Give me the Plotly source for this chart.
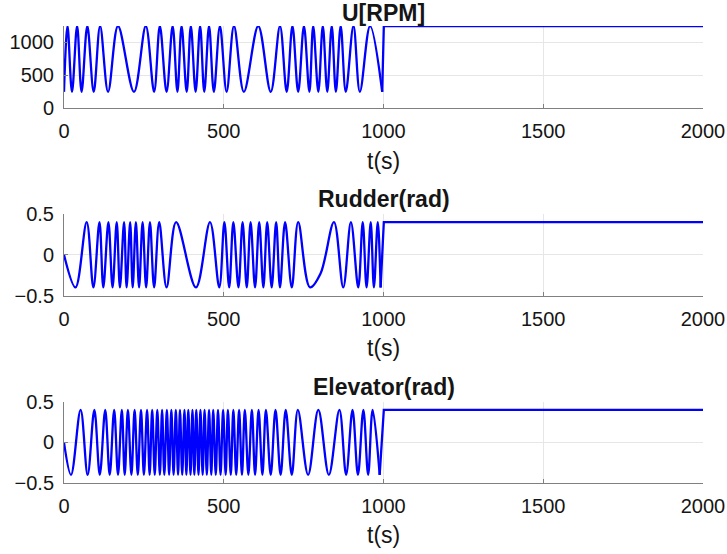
import plotly.graph_objects as go

# ---------------- data ----------------
# U[RPM]: extremum times (s) and values of the swept part, then the hold part
u_osc_t = [0, 11, 25, 41, 55, 73, 93, 113, 138, 169, 219, 256, 282, 300, 321,
           340, 355, 368, 384, 397, 412, 426, 439, 454, 469, 488, 509, 532,
           563, 608, 647, 676, 697, 715, 733, 751, 768, 780, 796, 810, 824,
           838, 851, 866, 882, 906, 926, 958, 996]
u_osc_v = [250, 1250, 250, 1250, 250, 1250, 250, 1250, 250, 1250, 250, 1250,
           250, 1250, 250, 1250, 250, 1250, 250, 1250, 250, 1250, 250, 1250,
           250, 1250, 250, 1250, 250, 1250, 250, 1250, 250, 1250, 250, 1250,
           250, 1250, 250, 1250, 250, 1250, 250, 1250, 250, 1250, 250, 1250,
           250]
u_hold_t = [996, 1001, 2000]
u_hold_v = [250, 1250, 1250]

# Rudder (rad)
rud_osc_t = [0, 36, 71, 92, 111, 123, 139, 152, 165, 175, 188, 196, 207, 215,
             225, 235, 246, 257, 269, 282, 298, 321, 351, 413, 457, 486, 502,
             517, 530, 546, 559, 572, 584, 598, 611, 624, 636, 650, 664, 676,
             692, 713, 733, 770, 803, 845, 874, 898, 921, 935, 947, 960, 970,
             982, 991]
rud_osc_v = [0, -0.4, 0.4, -0.4, 0.4, -0.4, 0.4, -0.4, 0.4, -0.4, 0.4, -0.4,
             0.4, -0.4, 0.4, -0.4, 0.4, -0.4, 0.4, -0.4, 0.4, -0.4, 0.4, -0.4,
             0.4, -0.4, 0.4, -0.4, 0.4, -0.4, 0.4, -0.4, 0.4, -0.4, 0.4, -0.4,
             0.4, -0.4, 0.4, -0.4, 0.4, -0.4, 0.4, -0.4, -0.23, 0.4, -0.4, 0.4,
             -0.4, 0.4, -0.4, 0.4, -0.4, 0.4, -0.4]
rud_hold_t = [991, 997, 999, 1001, 2000]
rud_hold_v = [-0.4, 0.12, 0.12, 0.4, 0.4]

# Elevator (rad)
elev_osc_t = [0, 22, 52, 74, 95, 112, 129, 143, 157, 169, 181, 190, 200, 211,
              221, 231, 241, 250, 260, 268, 276, 284, 292, 300, 307, 314, 322,
              329, 336, 343, 350, 357, 363, 370, 377, 383, 389, 396, 402, 408,
              414, 421, 427, 434, 440, 447, 454, 461, 467, 475, 482, 490, 498,
              506, 513, 522, 530, 539, 548, 557, 566, 577, 588, 598, 609, 621,
              632, 647, 662, 678, 694, 713, 732, 764, 796, 829, 862, 883, 903,
              920, 937, 952, 966, 988]
elev_osc_v = [0] + [-0.4, 0.4] * 41 + [-0.4]
elev_hold_t = [988, 1001, 2000]
elev_hold_v = [-0.4, 0.4, 0.4]

x_ticks = [0, 500, 1000, 1500, 2000]
u_ticks = [0, 500, 1000]
rad_ticks = [-0.5, 0, 0.5]
titles = ["U[RPM]", "Rudder(rad)", "Elevator(rad)"]
x_label = "t(s)"

# ---------------- figure ----------------
W, H = 727, 554
ML, MR, MT, MB = 64, 24, 26, 71
PH = H - MT - MB


def py2paper(py):
    return (H - MB - py) / PH


BLUE = "#0000ff"
GRID = "#e6e6e6"
AXC = "#808080"
TXT = "#151515"
FONT = "Liberation Sans, Arial, sans-serif"

fig = go.Figure()
series = [
    (u_osc_t, u_osc_v, u_hold_t, u_hold_v, "x", "y"),
    (rud_osc_t, rud_osc_v, rud_hold_t, rud_hold_v, "x2", "y2"),
    (elev_osc_t, elev_osc_v, elev_hold_t, elev_hold_v, "x3", "y3"),
]
for ot, ov, ht, hv, xa, ya in series:
    fig.add_trace(go.Scatter(x=ot, y=ov, mode="lines", xaxis=xa, yaxis=ya,
                             line=dict(color=BLUE, width=2.3, shape="spline",
                                       smoothing=1.0),
                             showlegend=False, hoverinfo="skip"))
    fig.add_trace(go.Scatter(x=ht, y=hv, mode="lines", xaxis=xa, yaxis=ya,
                             line=dict(color=BLUE, width=2.3),
                             showlegend=False, hoverinfo="skip"))

# panel geometry in pixels: (top, bottom, title centre)
panels = [(26, 108.3, 13.5), (214, 295.6, 199), (401.7, 483, 386.7)]
yranges = [[0, 1250], [-0.5, 0.5], [-0.5, 0.5]]
yticks = [u_ticks, rad_ticks, rad_ticks]

common_x = dict(range=[0, 2000], tickvals=x_ticks, showgrid=True,
                gridcolor=GRID, gridwidth=1, zeroline=False, showline=True,
                linecolor=AXC, linewidth=1, ticks="inside", ticklen=4,
                tickcolor=AXC, tickfont=dict(family=FONT, size=20, color=TXT),
                ticklabelstandoff=5, automargin=False)
common_y = dict(showgrid=True, gridcolor=GRID, gridwidth=1, zeroline=False,
                showline=True, linecolor=AXC, linewidth=1, ticks="inside",
                ticklen=4, tickcolor=AXC,
                tickfont=dict(family=FONT, size=20, color=TXT),
                ticklabelstandoff=5, automargin=False)

layout = dict(width=W, height=H, autosize=False,
              margin=dict(l=ML, r=MR, t=MT, b=MB, pad=0),
              paper_bgcolor="white", plot_bgcolor="white", showlegend=False)
annotations = []
for i, (top, bot, tpy) in enumerate(panels):
    sx = "" if i == 0 else str(i + 1)
    dom = [py2paper(bot), py2paper(top)]
    layout["xaxis" + sx] = dict(common_x, domain=[0, 1],
                                anchor="y" + sx)
    layout["yaxis" + sx] = dict(common_y, domain=dom, range=yranges[i],
                                tickvals=yticks[i], anchor="x" + sx)
    annotations.append(dict(text="<b>%s</b>" % titles[i], xref="paper",
                            yref="paper", x=0.5, y=py2paper(tpy),
                            xanchor="center", yanchor="middle",
                            showarrow=False,
                            font=dict(family=FONT, size=23, color=TXT)))
    annotations.append(dict(text=x_label, xref="paper", yref="paper", x=0.5,
                            y=py2paper(bot + 52.4), xanchor="center",
                            yanchor="middle", showarrow=False,
                            font=dict(family=FONT, size=23, color=TXT)))
layout["annotations"] = annotations
fig.update_layout(**layout)

fig.write_html("out.html", config={"displayModeBar": False},
               post_script="document.body.style.margin='0';"
                           "document.body.style.overflow='hidden';")
